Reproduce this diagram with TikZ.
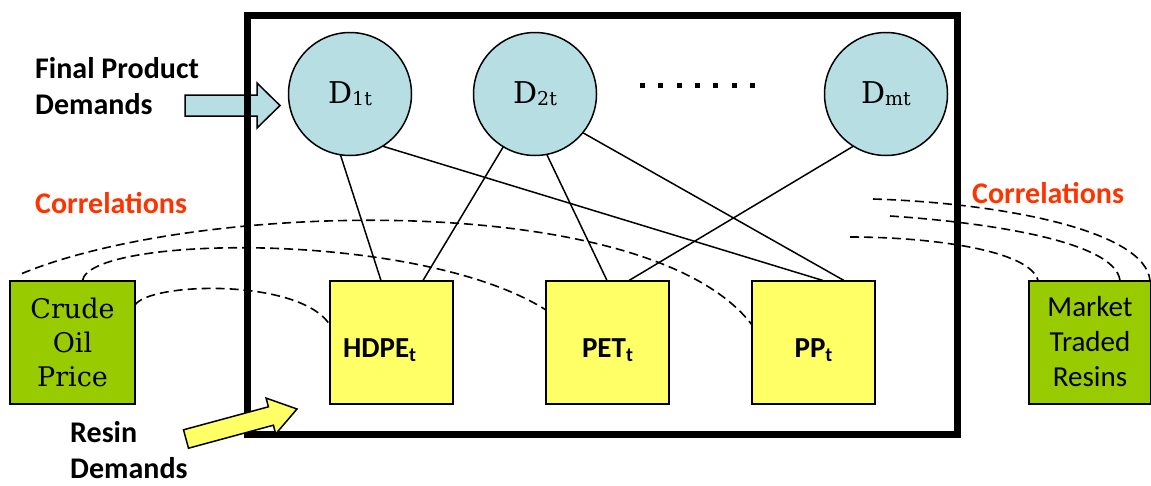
\documentclass[tikz,border=0pt]{standalone}
\usepackage{fontspec}
\setmainfont{Carlito}
\newfontfamily\slab{DejaVu Serif}

\definecolor{demandblue}{RGB}{183,222,226}
\definecolor{resinyellow}{RGB}{255,255,102}
\definecolor{pricegreen}{RGB}{153,204,0}
\definecolor{corrred}{RGB}{255,51,0}

\newcommand{\subt}[1]{\raisebox{-4pt}{\fontsize{20}{20}\selectfont #1}}
\newcommand{\dsub}[1]{\raisebox{-2pt}{\fontsize{19}{19}\selectfont #1}}

\begin{document}
\begin{tikzpicture}[x=1pt,y=-1pt,
  demand/.style={circle, draw, line width=1.5pt, fill=demandblue,
    minimum size=123pt, inner sep=0pt, outer sep=0pt,
    font=\slab\fontsize{30}{32}\selectfont},
  resin/.style={rectangle, draw, line width=2pt, fill=resinyellow,
    minimum size=123pt, inner sep=0pt, outer sep=0pt,
    text height=30pt, text depth=0pt,
    font=\bfseries\fontsize{29}{35}\selectfont},
  pricebox/.style={rectangle, draw, line width=2pt, fill=pricegreen,
    minimum height=123pt, inner sep=0pt, outer sep=0pt, align=center},
  link/.style={line width=1.5pt},
  corr/.style={line width=1.6pt, dash pattern=on 9pt off 5pt},
  caption/.style={font=\bfseries\fontsize{30}{36}\selectfont,
    align=left, inner sep=0pt, anchor=base west},
  corrlabel/.style={font=\bfseries\fontsize{30}{37}\selectfont,
    text=corrred, inner sep=0pt, anchor=base west},
  blockarrow/.style={draw, line width=1.5pt, line join=miter}
]
\useasboundingbox (0,0) rectangle (1151,485);

% incoming arrow for final product demands (behind the frame)
\filldraw[blockarrow, fill=demandblue]
  (185,95) -- (257,95) -- (257,83) -- (280,105.5) -- (257,128)
  -- (257,116) -- (185,116) -- cycle;

% planning frame
\draw[line width=7pt] (247,15) rectangle (957,434);

% demand nodes
\node[demand] (D1) at (350,94) {D\dsub{1t}};
\node[demand] (D2) at (535,94) {D\dsub{2t}};
\node[demand] (Dm) at (886,94) {D\dsub{mt}};
\foreach \k in {0,...,6}
  \fill (640+18.3*\k,82.5) rectangle ++(5,5);

% resin nodes
\node[resin, align=left, text width=97pt, inner xsep=13pt] (hdpe) at (391.5,342)
  {HDPE\subt{t}};
\node[resin] (pet) at (607.5,342) {PET\subt{t}};
\node[resin] (pp) at (813.5,342) {PP\subt{t}};

% price nodes
\node[pricebox, minimum width=125pt,
  font=\slab\fontsize{27}{34}\selectfont] (crude) at (72.5,342)
  {Crude\\Oil\\Price};
\node[pricebox, minimum width=122pt,
  font=\fontsize{29}{35}\selectfont] (mkt) at (1090,342)
  {Market\\Traded\\Resins};

% demand-to-resin links
\draw[link] (D1.261) -- ([xshift=-10.5pt]hdpe.north);
\draw[link] (D1.302) -- ([xshift=9.5pt]pp.north);
\draw[link] (D2.239) -- ([xshift=31.5pt]hdpe.north);
\draw[link] (D2.281) -- ([xshift=-0.5pt]pet.north);
\draw[link] (D2.321) -- ([xshift=30.5pt]pp.north);
\draw[link] (Dm.238) -- ([xshift=21.5pt]pet.north);

% price correlations, left
\draw[corr] ([xshift=12pt,yshift=7pt]crude.north west)
  .. controls (200,200) and (650,190) .. ([yshift=17pt]pp.west);
\draw[corr] ([xshift=10pt]crude.north)
  .. controls (90,235) and (420,230) .. ([yshift=32pt]pet.west);
\draw[corr] ([yshift=37pt]crude.east)
  .. controls (150,282) and (300,278) .. ([yshift=17pt]hdpe.west);

% price correlations, right
\coordinate (r1) at (873,199);
\coordinate (r2) at (890,216);
\coordinate (r3) at (850,237);
\draw[corr] (r1) .. controls (1000,203) and (1145,230) .. ([xshift=-1pt]mkt.north east);
\draw[corr] (r2) .. controls (980,222) and (1115,240) .. ([xshift=30pt]mkt.north);
\draw[corr] (r3) .. controls (930,237) and (1030,250) .. ([xshift=-52pt]mkt.north);

% incoming arrow for resin demands (over the frame)
\filldraw[blockarrow, fill=resinyellow]
  (183.5,429.8) -- (268.4,406.8) -- (266.1,398.1) -- (297,409)
  -- (275.7,433.9) -- (273.4,425.2) -- (188.5,448.2) -- cycle;

% captions (base anchor sits on the last line)
\node[caption] (fpd) at (35,114) {Final Product\\Demands};
\node[caption] (rd) at (70,478) {Resin\\Demands};
\node[corrlabel] (corrL) at (35,213) {Correlations};
\node[corrlabel] (corrR) at (972,203) {Correlations};
\end{tikzpicture}
\end{document}
